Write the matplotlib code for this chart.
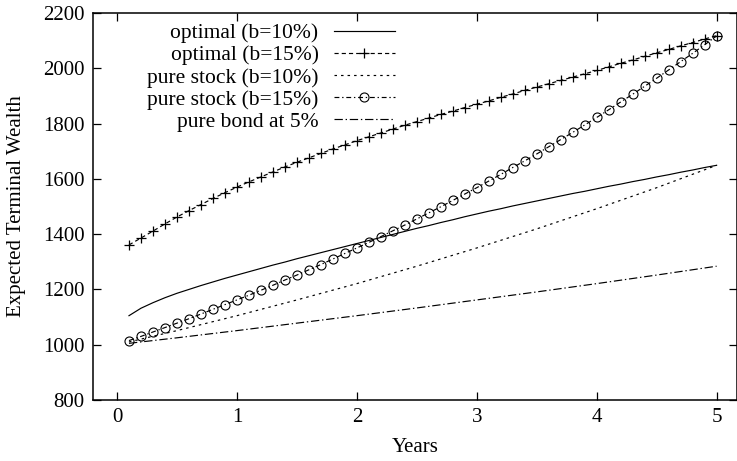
import numpy as np
import matplotlib
matplotlib.use("Agg")
import matplotlib.pyplot as plt

plt.rcParams["font.family"] = ["Liberation Serif", "DejaVu Serif"]
plt.rcParams["lines.scale_dashes"] = False

# --- data ---
years = [0.1, 0.2, 0.3, 0.4, 0.5, 0.6, 0.7, 0.8, 0.9, 1.0,
         1.1, 1.2, 1.3, 1.4, 1.5, 1.6, 1.7, 1.8, 1.9, 2.0,
         2.1, 2.2, 2.3, 2.4, 2.5, 2.6, 2.7, 2.8, 2.9, 3.0,
         3.1, 3.2, 3.3, 3.4, 3.5, 3.6, 3.7, 3.8, 3.9, 4.0,
         4.1, 4.2, 4.3, 4.4, 4.5, 4.6, 4.7, 4.8, 4.9, 5.0]

optimal_b10 = [1105, 1132, 1152, 1170, 1186, 1200, 1214, 1227, 1240, 1252,
               1264, 1276, 1288, 1299, 1311, 1322, 1333, 1344, 1355, 1366,
               1377, 1388, 1399, 1410, 1421, 1431, 1442, 1452, 1463, 1473,
               1483, 1492, 1502, 1511, 1520, 1529, 1538, 1547, 1555, 1564,
               1573, 1581, 1590, 1598, 1607, 1615, 1624, 1632, 1641, 1649]

optimal_b15 = [1361, 1386, 1411, 1437, 1462, 1485, 1507, 1529, 1550, 1570,
               1589, 1607, 1625, 1643, 1660, 1676, 1692, 1708, 1723, 1738,
               1752, 1766, 1780, 1794, 1807, 1820, 1833, 1845, 1858, 1870,
               1882, 1895, 1907, 1920, 1932, 1944, 1956, 1968, 1980, 1992,
               2005, 2018, 2030, 2043, 2056, 2068, 2081, 2093, 2106, 2118]

stock_b15 = [1015, 1030, 1046, 1062, 1078, 1094, 1111, 1128, 1145, 1162,
             1179, 1197, 1215, 1234, 1252, 1271, 1290, 1310, 1330, 1350,
             1370, 1391, 1412, 1433, 1455, 1477, 1499, 1522, 1545, 1568,
             1592, 1616, 1641, 1665, 1690, 1716, 1742, 1768, 1795, 1822,
             1850, 1878, 1906, 1935, 1964, 1994, 2024, 2054, 2085, 2117]

years_coarse = [0.1, 0.5, 1.0, 1.5, 2.0, 2.5, 3.0, 3.5, 4.0, 4.5, 5.0]
stock_b10 = [1010, 1051, 1105, 1162, 1221, 1284, 1350, 1419, 1492, 1568, 1649]
bond_5 = [1005, 1025, 1051, 1078, 1105, 1133, 1162, 1191, 1221, 1252, 1284]

labels = ["optimal (b=10%)", "optimal (b=15%)", "pure stock (b=10%)",
          "pure stock (b=15%)", "pure bond at 5%"]

fig = plt.figure(figsize=(7.37, 4.61), dpi=100)
ax = fig.add_axes([93 / 737, 1 - 400 / 461, (737 - 93) / 737, (400 - 13) / 461])

lw = 0.85
ax.plot(years, optimal_b10, color="black", lw=lw, label=labels[0])
ax.plot(years, optimal_b15, color="black", lw=lw, linestyle=(0, (3, 2.2)),
        marker="+", ms=7.5, mew=0.9, label=labels[1])
ax.plot(years_coarse, stock_b10, color="black", lw=lw, linestyle=(0, (1.8, 2.9)),
        label=labels[2])
ax.plot(years, stock_b15, color="black", lw=lw, linestyle=(0, (3.5, 2, 1, 2)),
        marker="o", ms=6.5, mfc="none", mec="black", mew=0.8, label=labels[3])
ax.plot(years_coarse, bond_5, color="black", lw=lw, linestyle=(0, (6, 2, 1, 2)),
        label=labels[4])

ax.set_xlim(-0.2, 5.17)
ax.set_ylim(800, 2200)
ax.set_xticks([0, 1, 2, 3, 4, 5])
ax.set_yticks(np.arange(800, 2201, 200))
ax.tick_params(direction="in", top=True, right=True, length=5.5, width=0.9,
               labelsize=15, pad=6)
for sp in ax.spines.values():
    sp.set_linewidth(1.1)

ax.set_xlabel("Years", fontsize=15, labelpad=8)
ax.set_ylabel("Expected Terminal Wealth", fontsize=15, labelpad=12)

leg = ax.legend(loc="upper right", bbox_to_anchor=(395 / 737, 1 - 23 / 461),
                bbox_transform=fig.transFigure, frameon=False, markerfirst=False,
                fontsize=15.5, handlelength=2.85, handletextpad=0.7,
                labelspacing=0.1, borderpad=0, borderaxespad=0, markerscale=1)
for col in leg._legend_handle_box.get_children():
    col.align = "right"

fig.savefig("out.png", dpi=100)
